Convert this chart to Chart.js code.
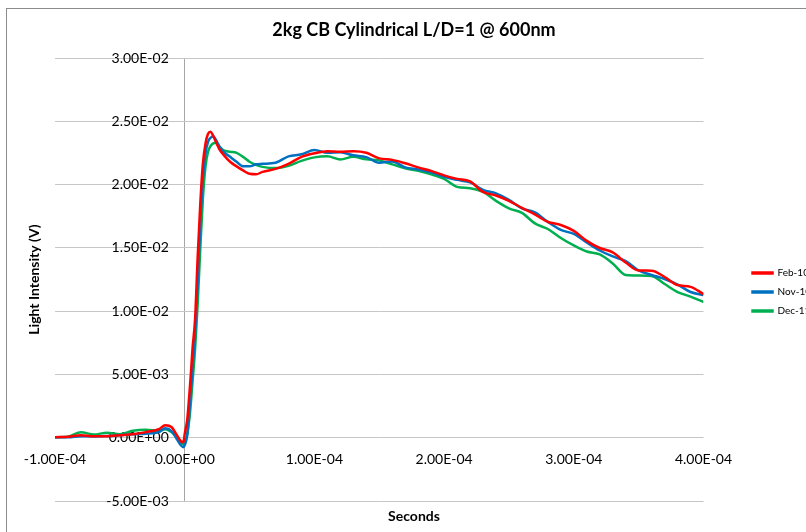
<!DOCTYPE html>
<html>
<head>
<meta charset="utf-8">
<script src="https://cdn.jsdelivr.net/npm/chart.js@4"></script>
<style>
  html, body { margin: 0; padding: 0; background: #fff; overflow: hidden; }
  #frame {
    position: absolute; left: 6px; top: 8px;
    width: 814px; height: 523px;
    border: 1px solid #8c8c8c;
  }
</style>
</head>
<body>
<div id="frame"><canvas id="lightChart"></canvas></div>
<script>
// time axis, microseconds
const timeUs = [-100, -90, -80, -70, -60, -50, -40, -30, -20, -15, -10, -6, -3, -1, 0, 1, 2, 3, 4, 5, 6, 8, 10, 12, 14, 16, 18, 20, 22, 24, 27, 30, 35, 40, 45, 50, 55, 60, 70, 80, 90, 100, 110, 120, 130, 140, 150, 160, 170, 180, 190, 200, 210, 220, 230, 240, 250, 260, 270, 280, 290, 300, 310, 320, 330, 340, 350, 360, 370, 380, 390, 400];

// light intensity, volts
const feb10 = [0.00004, 0.00008, 0.0002, 0.00012, 0.00012, 0.0002, 0.00028, 0.00044, 0.00067, 0.00099, 0.00083, 0.0002, -0.00028, -0.00036, 0.0003, 0.00083, 0.00146, 0.00265, 0.0040, 0.00542, 0.0070, 0.00937, 0.01428, 0.01847, 0.02164, 0.02322, 0.02401, 0.02417, 0.02385, 0.02338, 0.02275, 0.02235, 0.0218, 0.02144, 0.02112, 0.02085, 0.02081, 0.021, 0.02124, 0.02164, 0.02219, 0.02247, 0.02263, 0.02259, 0.02263, 0.02251, 0.02207, 0.02195, 0.02168, 0.02136, 0.02108, 0.02073, 0.02045, 0.02025, 0.01942, 0.01914, 0.01871, 0.01816, 0.01764, 0.01705, 0.01681, 0.01634, 0.01555, 0.01499, 0.01464, 0.01384, 0.01321, 0.0132, 0.0127, 0.01206, 0.01192, 0.01135];
const nov10 = [0.00004, 0.00004, 0.00012, 0.0001, 0.00013, 0.0002, 0.00028, 0.00032, 0.00044, 0.00075, 0.00051, -0.00012, -0.00059, -0.00075, -0.00059, -0.00028, 0.00028, 0.00123, 0.00265, 0.0040, 0.00542, 0.00819, 0.01214, 0.01689, 0.02045, 0.02243, 0.02338, 0.0237, 0.02381, 0.02354, 0.02298, 0.02259, 0.02219, 0.0218, 0.02144, 0.02144, 0.0216, 0.02164, 0.02172, 0.02223, 0.02239, 0.02274, 0.02251, 0.02255, 0.02231, 0.02217, 0.02172, 0.02183, 0.02136, 0.02119, 0.02096, 0.02061, 0.02037, 0.02017, 0.01958, 0.0193, 0.01879, 0.01812, 0.0178, 0.01705, 0.01642, 0.0161, 0.01543, 0.01479, 0.01432, 0.01396, 0.01321, 0.01286, 0.01254, 0.0121, 0.01151, 0.01127];
const dec11 = [0.00004, 0.00008, 0.00044, 0.00025, 0.0004, 0.00028, 0.00055, 0.00063, 0.00055, 0.00067, 0.00044, 0.00004, -0.00036, -0.00051, -0.00044, -0.0002, 0.00028, 0.00099, 0.00186, 0.00305, 0.00439, 0.007, 0.01056, 0.01491, 0.01887, 0.0214, 0.02259, 0.02306, 0.02326, 0.0233, 0.02298, 0.0227, 0.02259, 0.02251, 0.02219, 0.0218, 0.02156, 0.0214, 0.0213, 0.02148, 0.02187, 0.02215, 0.02223, 0.02199, 0.02219, 0.02199, 0.02191, 0.0216, 0.02128, 0.02108, 0.02081, 0.02045, 0.01982, 0.01971, 0.01942, 0.01871, 0.01812, 0.01776, 0.01693, 0.01649, 0.01578, 0.01519, 0.01471, 0.01448, 0.01377, 0.01286, 0.01282, 0.01278, 0.01214, 0.01151, 0.01115, 0.01072];

const seriesNames = ["Feb-10", "Nov-10", "Dec-11"];
const seriesColors = ["#ff0000", "#0070c0", "#00b050"];

// axis ranges / ticks
const xTicks = { min: -1e-4, max: 4e-4, step: 1e-4 };
const yTicks = { min: -5e-3, max: 3e-2, step: 5e-3 };

const FONT = "Lato";
// y labels sit a little left of the x=0 axis line (in seconds, about 16px)
const Y_LABEL_AT = -1.23e-5;

// Excel style 0.00E+00 labels
function sci(v) {
  if (Math.abs(v) < 1e-12) return "0.00E+00";
  const [m, e] = v.toExponential(2).split("e");
  const n = parseInt(e, 10);
  return m + "E" + (n < 0 ? "-" : "+") + String(Math.abs(n)).padStart(2, "0");
}

const toPoints = (vals) => vals.map((v, i) => ({ x: timeUs[i] * 1e-6, y: v }));

const datasets = [feb10, nov10, dec11].map((vals, i) => ({
  label: seriesNames[i],
  data: toPoints(vals),
  borderColor: seriesColors[i],
  backgroundColor: seriesColors[i],
  borderWidth: 2.5,
  pointRadius: 0,
  cubicInterpolationMode: "monotone",
  xAxisID: "x",
  yAxisID: "y",
}));

const ctx = document.getElementById("lightChart").getContext("2d");
new Chart(ctx, {
  type: "line",
  data: { datasets },
  options: {
    responsive: true,
    maintainAspectRatio: false,
    animation: false,
    layout: { padding: 0 },
    scales: {
      x: {
        type: "linear",
        min: xTicks.min,
        max: xTicks.max,
        position: { y: 0 },
        // only the gridline at t = 0 is shown: it is the vertical axis line
        grid: {
          display: true,
          drawTicks: false,
          color: (c) => (c.tick && Math.abs(c.tick.value) < 1e-12 ? "#a6a6a6" : "rgba(0,0,0,0)"),
        },
        border: { display: false },
        ticks: {
          stepSize: xTicks.step,
          padding: 13,
          color: "#000",
          font: { family: FONT, size: 14 },
          maxRotation: 0,
          callback: (v) => sci(v),
        },
      },
      y: {
        type: "linear",
        min: yTicks.min,
        max: yTicks.max,
        position: { x: Y_LABEL_AT },
        grid: { color: "#c6c6c6", lineWidth: 1, drawTicks: false },
        border: { display: false },
        ticks: {
          stepSize: yTicks.step,
          color: "#000",
          font: { family: FONT, size: 14 },
          callback: (v) => sci(v),
        },
      },
      // holds the vertical axis title at the left edge
      yTitle: {
        type: "linear",
        position: "left",
        display: true,
        grid: { display: false },
        border: { display: false },
        ticks: { display: false },
        title: {
          display: true,
          text: "Light Intensity (V)",
          color: "#000",
          font: { family: FONT, size: 14, weight: "bold" },
          padding: { top: 19, bottom: 0 },
        },
        afterFit: (s) => { s.width = 48; },
      },
      // gap between plot and legend
      gapRight: {
        type: "linear",
        position: "right",
        display: true,
        grid: { display: false },
        border: { display: false },
        ticks: { display: false },
        afterFit: (s) => { s.width = 40; },
      },
    },
    plugins: {
      title: {
        display: true,
        text: "2kg CB Cylindrical L/D=1 @ 600nm",
        color: "#000",
        font: { family: FONT, size: 18, weight: "bold" },
        padding: { top: 10, bottom: 17.4 },
      },
      subtitle: {
        display: true,
        position: "bottom",
        text: "Seconds",
        color: "#000",
        font: { family: FONT, size: 14, weight: "bold" },
        padding: { top: 6.6, bottom: 7.6 },
      },
      legend: {
        position: "right",
        fullSize: false,
        align: "center",
        title: { display: true, text: "", font: { size: 10 }, padding: { top: 13, bottom: 0 } },
        labels: {
          boxWidth: 20,
          boxHeight: 1,
          padding: 9,
          color: "#000",
          font: { family: FONT, size: 10 },
        },
      },
      tooltip: { enabled: false },
    },
  },
});
</script>
</body>
</html>
